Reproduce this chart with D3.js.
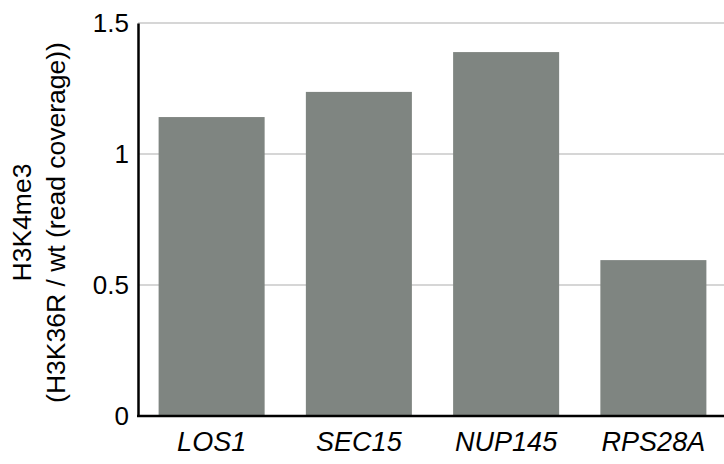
<!DOCTYPE html>
<html>
<head>
<meta charset="utf-8">
<script src="https://cdn.jsdelivr.net/npm/d3@7"></script>
<style>
  body { margin: 0; background: #fff; }
  text { font-family: Arial, "Liberation Sans", sans-serif; fill: #000; }
</style>
</head>
<body>
<script>
// data
var genes = ["LOS1", "SEC15", "NUP145", "RPS28A"];
var ratios = [1.141, 1.237, 1.389, 0.595];
var yTicks = [0, 0.5, 1, 1.5];

var W = 724, H = 464;
var plotLeft = 138, plotRight = 727, plotTop = 23, plotBottom = 416;

var svg = d3.select("body").append("svg")
    .attr("width", W)
    .attr("height", H);

var x = d3.scaleBand()
    .domain(genes)
    .range([plotLeft, plotRight])
    .paddingInner(0.28)
    .paddingOuter(0.14);

var y = d3.scaleLinear()
    .domain([0, 1.5])
    .range([plotBottom, plotTop]);

// grid lines
svg.append("g")
  .selectAll("line")
  .data(yTicks.filter(function(d) { return d > 0; }))
  .join("line")
    .attr("x1", plotLeft)
    .attr("x2", W)
    .attr("y1", function(d) { return y(d); })
    .attr("y2", function(d) { return y(d); })
    .attr("stroke", "#c8c8c8")
    .attr("stroke-width", 1.5);

// bars
svg.append("g")
  .selectAll("rect")
  .data(genes)
  .join("rect")
    .attr("x", function(d) { return x(d); })
    .attr("width", x.bandwidth())
    .attr("y", function(d, i) { return y(ratios[i]); })
    .attr("height", function(d, i) { return y(0) - y(ratios[i]); })
    .attr("fill", "#7f8581");

// y axis
var yAxis = svg.append("g")
    .attr("transform", "translate(" + plotLeft + ",0)")
    .call(d3.axisLeft(y).tickValues(yTicks).tickFormat(d3.format("~g"))
      .tickSize(0).tickPadding(9));
yAxis.select(".domain").attr("stroke", "#000").attr("stroke-width", 2.5);
yAxis.selectAll("text")
    .attr("font-size", 26)
    .attr("font-family", "Arial, 'Liberation Sans', sans-serif")
    .attr("fill", "#000");

// x axis
var xAxis = svg.append("g")
    .attr("transform", "translate(0," + plotBottom + ")")
    .call(d3.axisBottom(x).tickSize(0));
xAxis.select(".domain").remove();
xAxis.append("line")
    .attr("x1", plotLeft - 1)
    .attr("x2", W)
    .attr("stroke", "#000")
    .attr("stroke-width", 2.5);
xAxis.selectAll(".tick text")
    .attr("y", 35)
    .attr("dy", 0)
    .attr("font-size", 27)
    .attr("font-style", "italic")
    .attr("font-family", "Arial, 'Liberation Sans', sans-serif")
    .attr("fill", "#000");

// y axis title
var title = svg.append("text")
    .attr("transform", "translate(31," + ((plotTop + plotBottom) / 2 + 3) + ") rotate(-90)")
    .attr("text-anchor", "middle")
    .attr("font-size", 26.5);
title.append("tspan").attr("x", 0).attr("y", 0).text("H3K4me3");
title.append("tspan").attr("x", 0).attr("y", 34).text("(H3K36R / wt (read coverage))");
</script>
</body>
</html>
